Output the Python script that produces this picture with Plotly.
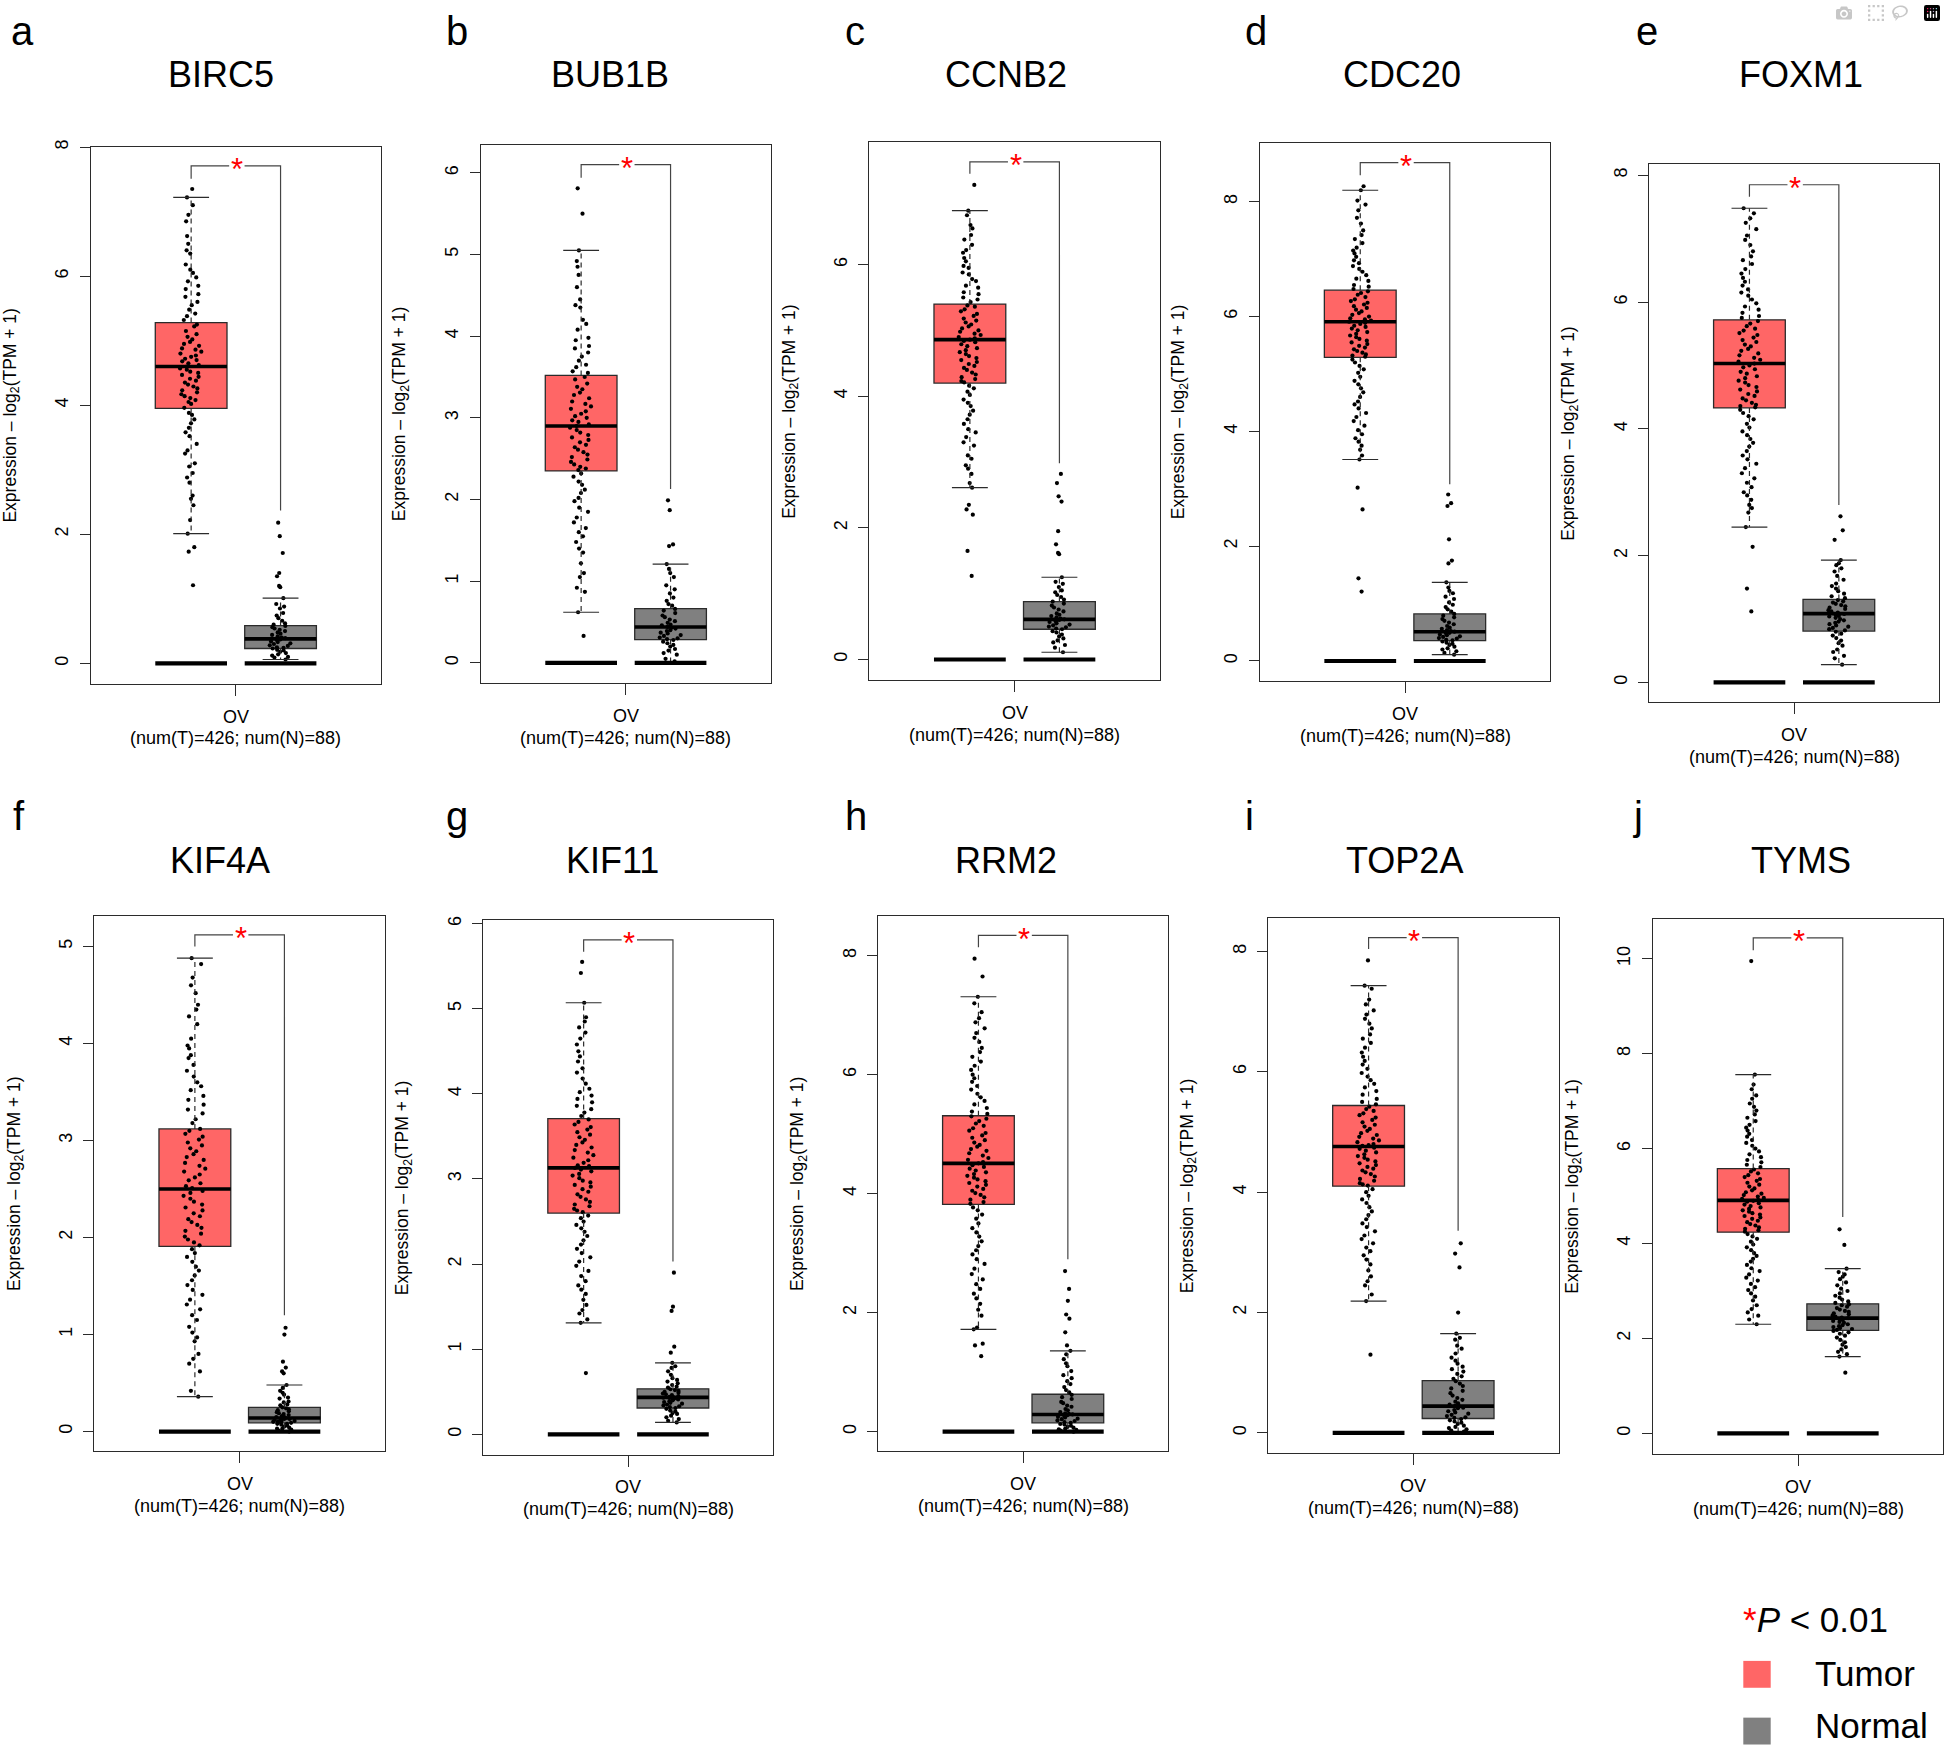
import plotly.graph_objects as go

W, H = 1946, 1747

# ---------------- data ----------------
genes = ["BIRC5", "BUB1B", "CCNB2", "CDC20", "FOXM1", "KIF4A", "KIF11", "RRM2", "TOP2A", "TYMS"]
panel_letters = ["a", "b", "c", "d", "e", "f", "g", "h", "i", "j"]
group_labels = ["Tumor", "Normal"]
cancer_label = "OV"
n_tumor = 426
n_normal = 88

tumor_q1 = [3.95, 2.35, 4.20, 5.29, 4.33, 1.91, 2.60, 3.82, 4.10, 4.24]
tumor_median = [4.60, 2.90, 4.86, 5.91, 5.03, 2.50, 3.13, 4.51, 4.76, 4.91]
tumor_q3 = [5.28, 3.52, 5.40, 6.46, 5.72, 3.12, 3.71, 5.31, 5.44, 5.58]
tumor_lower = [2.01, 0.62, 2.61, 3.51, 2.45, 0.36, 1.31, 1.72, 2.19, 2.30]
tumor_upper = [7.22, 5.05, 6.82, 8.20, 7.48, 4.88, 5.07, 7.31, 7.43, 7.56]

normal_q1 = [0.23, 0.285, 0.46, 0.355, 0.81, 0.09, 0.31, 0.15, 0.24, 2.17]
normal_median = [0.38, 0.44, 0.61, 0.51, 1.085, 0.14, 0.435, 0.29, 0.445, 2.43]
normal_q3 = [0.586, 0.664, 0.88, 0.82, 1.31, 0.25, 0.535, 0.63, 0.87, 2.73]
normal_lower = [0.06, 0.01, 0.11, 0.11, 0.28, 0.0, 0.14, 0.0, 0.0, 1.62]
normal_upper = [1.01, 1.21, 1.25, 1.37, 1.93, 0.48, 0.84, 1.36, 1.65, 3.47]

bracket_top = [7.71, 6.10, 7.56, 8.68, 7.85, 5.12, 5.81, 8.34, 8.23, 10.44]
bracket_tumor_end = [7.51, 5.94, 7.38, 8.46, 7.66, 5.00, 5.67, 8.14, 8.04, 10.18]
bracket_normal_end = [2.37, 2.13, 2.98, 3.08, 2.80, 1.20, 2.03, 2.90, 3.36, 4.56]
zero_level = [0.0, 0.0, 0.0, 0.0, 0.0, 0.0, 0.0, 0.0, 0.0, 0.0]

tumor_points = [
    [7.35, 7.22, 7.10, 6.85, 6.62, 6.50, 6.35, 6.18, 6.05, 5.92, 5.80, 5.68, 5.55, 5.42, 5.32,
     5.25, 5.15, 5.06, 4.98, 4.92, 4.86, 4.80, 4.75, 4.70, 4.65, 4.60,
     4.55, 4.50, 4.44, 4.38, 4.32, 4.26, 4.20, 4.14, 4.08, 4.02, 3.96,
     3.88, 3.78, 3.65, 3.52, 3.40, 3.25, 3.10, 2.95, 2.80, 2.60, 2.45, 2.22, 2.01, 1.80, 1.73, 1.21,
     6.95, 6.40, 6.10, 5.98, 5.85, 5.72, 5.60, 5.48, 5.38, 5.22, 5.10, 5.02, 4.95, 4.88, 4.83, 4.77,
     4.72, 4.68, 4.62, 4.57, 4.52, 4.47, 4.41, 4.35, 4.29, 4.23, 4.17, 4.11, 4.05, 3.85, 3.72, 3.58,
     3.30, 3.05, 2.88, 2.55],
    [5.81, 5.50, 5.05, 4.92, 4.85, 4.60, 4.45, 4.35, 4.20, 4.08, 3.95, 3.85, 3.75, 3.65, 3.57,
     3.50, 3.42, 3.35, 3.28, 3.20, 3.14, 3.08, 3.02, 2.97, 2.92,
     2.88, 2.82, 2.76, 2.70, 2.64, 2.58, 2.52, 2.46, 2.40, 2.36,
     2.28, 2.18, 2.08, 1.98, 1.85, 1.72, 1.60, 1.48, 1.35, 1.22, 1.05, 0.92, 0.87, 0.62, 0.33,
     4.75, 4.38, 4.15, 3.98, 3.88, 3.80, 3.70, 3.62, 3.55, 3.47, 3.38, 3.31, 3.24, 3.17, 3.11, 3.05,
     3.00, 2.95, 2.90, 2.85, 2.79, 2.73, 2.67, 2.61, 2.55, 2.49, 2.43, 2.38, 2.32, 2.22, 2.12, 2.02,
     1.90, 1.78, 1.65, 1.55, 1.40, 1.10],
    [7.21, 6.82, 6.75, 6.60, 6.45, 6.30, 6.18, 6.05, 5.95, 5.85, 5.75, 5.65, 5.55, 5.47,
     5.38, 5.32, 5.25, 5.18, 5.12, 5.06, 5.00, 4.95, 4.90, 4.86,
     4.82, 4.76, 4.70, 4.64, 4.58, 4.52, 4.46, 4.40, 4.33, 4.26, 4.21,
     4.12, 4.02, 3.90, 3.78, 3.65, 3.50, 3.38, 3.25, 3.10, 2.95, 2.82, 2.68, 2.61, 2.35, 2.28, 2.20, 1.65, 1.27,
     6.55, 6.38, 6.22, 6.10, 5.98, 5.88, 5.78, 5.68, 5.58, 5.50, 5.43, 5.36, 5.29, 5.22, 5.15, 5.09,
     5.03, 4.98, 4.93, 4.88, 4.84, 4.79, 4.73, 4.67, 4.61, 4.55, 4.49, 4.43, 4.36, 4.29, 4.23, 4.16,
     4.07, 3.95, 3.85, 3.72, 3.58, 3.45, 3.30, 3.05, 2.90],
    [8.27, 8.20, 8.02, 7.85, 7.62, 7.50, 7.35, 7.20, 7.10, 6.98, 6.88, 6.78, 6.66, 6.55,
     6.44, 6.38, 6.30, 6.24, 6.18, 6.12, 6.06, 6.00, 5.95, 5.91,
     5.87, 5.82, 5.76, 5.70, 5.64, 5.58, 5.52, 5.46, 5.40, 5.34, 5.30,
     5.20, 5.08, 4.95, 4.82, 4.68, 4.52, 4.40, 4.25, 4.10, 3.95, 3.82, 3.68, 3.58, 3.51, 3.02, 2.64, 1.44, 1.21,
     7.95, 7.72, 7.42, 7.28, 7.15, 7.04, 6.93, 6.83, 6.72, 6.62, 6.52, 6.48, 6.41, 6.34, 6.27, 6.21,
     6.15, 6.09, 6.03, 5.97, 5.93, 5.89, 5.84, 5.79, 5.73, 5.67, 5.61, 5.55, 5.49, 5.43, 5.37, 5.32,
     5.25, 5.14, 5.02, 4.88, 4.75, 4.60, 4.47, 4.32, 4.18, 4.02, 3.88, 3.75],
    [7.48, 7.40, 7.25, 7.05, 6.90, 6.72, 6.60, 6.45, 6.32, 6.20, 6.10, 5.98, 5.88, 5.78,
     5.70, 5.62, 5.55, 5.48, 5.40, 5.33, 5.26, 5.19, 5.12, 5.06,
     5.00, 4.94, 4.87, 4.80, 4.73, 4.66, 4.59, 4.52, 4.45, 4.38, 4.34,
     4.25, 4.15, 4.02, 3.90, 3.78, 3.65, 3.52, 3.38, 3.22, 3.08, 2.95, 2.80, 2.68, 2.45, 2.14, 1.48, 1.12,
     7.32, 7.15, 6.98, 6.80, 6.66, 6.52, 6.38, 6.26, 6.15, 6.04, 5.93, 5.83, 5.75, 5.66, 5.58, 5.51,
     5.44, 5.37, 5.30, 5.23, 5.16, 5.09, 5.03, 4.97, 4.90, 4.83, 4.76, 4.69, 4.62, 4.55, 4.48, 4.41,
     4.36, 4.30, 4.20, 4.08, 3.96, 3.84, 3.72, 3.58, 3.45, 3.30, 3.15, 3.00, 2.88, 2.75],
    [4.88, 4.82, 4.68, 4.52, 4.40, 4.28, 4.05, 3.95, 3.85, 3.72, 3.60, 3.52, 3.42, 3.32, 3.22,
     3.10, 3.04, 2.98, 2.92, 2.86, 2.80, 2.74, 2.68, 2.62, 2.56, 2.51,
     2.46, 2.40, 2.34, 2.28, 2.22, 2.16, 2.10, 2.04, 1.98, 1.92,
     1.84, 1.75, 1.66, 1.56, 1.46, 1.36, 1.26, 1.15, 1.02, 0.93, 0.80, 0.70, 0.62, 0.42, 0.36,
     4.60, 4.35, 4.20, 3.98, 3.88, 3.78, 3.66, 3.56, 3.46, 3.37, 3.28, 3.18, 3.12, 3.07, 3.01, 2.95,
     2.89, 2.83, 2.77, 2.71, 2.65, 2.59, 2.53, 2.48, 2.43, 2.37, 2.31, 2.25, 2.19, 2.13, 2.07, 2.01,
     1.95, 1.88, 1.80, 1.70, 1.61, 1.51, 1.41, 1.31, 1.20, 1.08, 0.97, 0.75],
    [5.55, 5.42, 5.07, 4.90, 4.78, 4.65, 4.50, 4.38, 4.25, 4.12, 4.02, 3.94, 3.86, 3.78,
     3.70, 3.64, 3.58, 3.52, 3.46, 3.40, 3.34, 3.28, 3.22, 3.16, 3.13,
     3.09, 3.04, 2.98, 2.93, 2.88, 2.82, 2.76, 2.70, 2.65, 2.61,
     2.54, 2.46, 2.38, 2.28, 2.18, 2.08, 1.98, 1.86, 1.75, 1.65, 1.52, 1.42, 1.35, 1.31, 0.72,
     4.85, 4.72, 4.58, 4.44, 4.30, 4.18, 4.06, 3.98, 3.90, 3.82, 3.74, 3.67, 3.61, 3.55, 3.49, 3.43,
     3.37, 3.31, 3.25, 3.19, 3.15, 3.11, 3.06, 3.01, 2.96, 2.91, 2.85, 2.79, 2.73, 2.68, 2.63, 2.57,
     2.50, 2.42, 2.33, 2.23, 2.13, 2.03, 1.92, 1.80, 1.70, 1.58, 1.46],
    [7.95, 7.65, 7.31, 7.20, 6.95, 6.78, 6.62, 6.45, 6.30, 6.15, 6.00, 5.88, 5.75, 5.62, 5.50, 5.38,
     5.30, 5.22, 5.14, 5.06, 4.98, 4.90, 4.82, 4.75, 4.68, 4.60, 4.53,
     4.48, 4.42, 4.36, 4.30, 4.24, 4.18, 4.12, 4.05, 3.98, 3.90, 3.83,
     3.72, 3.58, 3.42, 3.28, 3.12, 2.98, 2.82, 2.65, 2.48, 2.32, 2.15, 1.95, 1.75, 1.72, 1.48, 1.45, 1.27,
     7.05, 6.88, 6.70, 6.55, 6.38, 6.22, 6.08, 5.94, 5.81, 5.68, 5.56, 5.44, 5.34, 5.26, 5.18, 5.10,
     5.02, 4.94, 4.86, 4.79, 4.72, 4.64, 4.57, 4.51, 4.45, 4.39, 4.33, 4.27, 4.21, 4.15, 4.08, 4.01,
     3.94, 3.86, 3.77, 3.65, 3.50, 3.35, 3.20, 3.05, 2.90, 2.74, 2.56, 2.40, 2.24, 2.05],
    [7.85, 7.43, 7.38, 7.12, 6.95, 6.80, 6.62, 6.48, 6.32, 6.18, 6.05, 5.92, 5.80, 5.68, 5.55,
     5.42, 5.35, 5.28, 5.20, 5.12, 5.05, 4.98, 4.92, 4.86, 4.80, 4.77,
     4.72, 4.66, 4.60, 4.54, 4.48, 4.42, 4.36, 4.30, 4.22, 4.15, 4.11,
     4.00, 3.88, 3.75, 3.62, 3.48, 3.35, 3.22, 3.08, 2.95, 2.80, 2.60, 2.45, 2.30, 2.19, 1.30,
     7.20, 7.02, 6.88, 6.72, 6.55, 6.40, 6.25, 6.12, 5.98, 5.86, 5.74, 5.62, 5.50, 5.46, 5.38, 5.31,
     5.24, 5.16, 5.09, 5.02, 4.95, 4.89, 4.83, 4.78, 4.74, 4.69, 4.63, 4.57, 4.51, 4.45, 4.39, 4.33,
     4.26, 4.19, 4.13, 4.05, 3.94, 3.82, 3.68, 3.55, 3.42, 3.28, 3.15, 3.02, 2.88, 2.70, 2.52],
    [9.95, 7.56, 7.35, 7.12, 6.95, 6.80, 6.65, 6.50, 6.38, 6.25, 6.12, 6.00, 5.88, 5.76, 5.66,
     5.56, 5.48, 5.40, 5.32, 5.24, 5.16, 5.08, 5.02, 4.96, 4.92,
     4.88, 4.82, 4.76, 4.70, 4.64, 4.58, 4.52, 4.45, 4.38, 4.31, 4.25,
     4.15, 4.04, 3.92, 3.80, 3.68, 3.55, 3.42, 3.28, 3.15, 3.02, 2.88, 2.70, 2.55, 2.40, 2.30,
     7.25, 7.05, 6.88, 6.72, 6.58, 6.44, 6.31, 6.18, 6.06, 5.94, 5.82, 5.71, 5.61, 5.52, 5.44, 5.36,
     5.28, 5.20, 5.12, 5.05, 4.99, 4.94, 4.90, 4.85, 4.79, 4.73, 4.67, 4.61, 4.55, 4.48, 4.41, 4.34,
     4.28, 4.20, 4.10, 3.98, 3.86, 3.74, 3.62, 3.48, 3.35, 3.22, 3.08, 2.95, 2.80, 2.62, 2.48],
]

normal_points = [
    [2.18, 1.97, 1.71, 1.40, 1.35, 1.20, 1.18, 1.01, 0.92, 0.85, 0.78, 0.70, 0.62, 0.58, 0.54,
     0.50, 0.46, 0.42, 0.39, 0.37, 0.34, 0.31, 0.28, 0.25, 0.23, 0.20, 0.16, 0.12, 0.09, 0.06,
     0.88, 0.74, 0.66, 0.60, 0.56, 0.52, 0.48, 0.44, 0.40, 0.36, 0.33, 0.30, 0.27, 0.24, 0.21,
     0.18, 0.14, 0.10],
    [1.99, 1.87, 1.45, 1.43, 1.21, 1.15, 1.05, 0.95, 0.85, 0.76, 0.70, 0.64, 0.58, 0.53, 0.49,
     0.46, 0.44, 0.42, 0.39, 0.36, 0.33, 0.30, 0.28, 0.24, 0.20, 0.15, 0.10, 0.05, 0.02,
     1.10, 0.90, 0.80, 0.72, 0.66, 0.61, 0.56, 0.51, 0.47, 0.43, 0.40, 0.37, 0.34, 0.31, 0.29,
     0.26, 0.22, 0.17, 0.12],
    [2.82, 2.68, 2.48, 2.40, 1.95, 1.75, 1.62, 1.60, 1.25, 1.18, 1.10, 1.02, 0.95, 0.88, 0.82,
     0.76, 0.70, 0.66, 0.62, 0.60, 0.57, 0.53, 0.50, 0.47, 0.43, 0.38, 0.32, 0.26, 0.18, 0.11,
     1.15, 1.05, 0.98, 0.91, 0.85, 0.79, 0.73, 0.68, 0.64, 0.61, 0.58, 0.55, 0.52, 0.49, 0.46,
     0.41, 0.35, 0.29, 0.22],
    [2.90, 2.75, 2.70, 2.12, 1.75, 1.70, 1.37, 1.28, 1.18, 1.08, 0.98, 0.90, 0.82, 0.76, 0.70,
     0.64, 0.58, 0.54, 0.51, 0.48, 0.45, 0.42, 0.39, 0.36, 0.32, 0.28, 0.22, 0.17, 0.11,
     1.22, 1.12, 1.02, 0.94, 0.86, 0.79, 0.73, 0.67, 0.61, 0.56, 0.52, 0.49, 0.46, 0.43, 0.40,
     0.37, 0.34, 0.30, 0.25, 0.20, 0.14],
    [2.62, 2.40, 2.25, 1.93, 1.85, 1.75, 1.62, 1.52, 1.44, 1.36, 1.30, 1.26, 1.22, 1.18, 1.14,
     1.10, 1.07, 1.04, 1.00, 0.96, 0.92, 0.88, 0.84, 0.80, 0.74, 0.66, 0.58, 0.48, 0.38, 0.28,
     1.88, 1.80, 1.68, 1.56, 1.48, 1.40, 1.33, 1.28, 1.24, 1.20, 1.16, 1.12, 1.08, 1.05, 1.02,
     0.98, 0.94, 0.90, 0.86, 0.82, 0.77, 0.70, 0.62, 0.52, 0.42],
    [1.07, 1.00, 0.72, 0.66, 0.62, 0.60, 0.48, 0.42, 0.38, 0.34, 0.30, 0.27, 0.24, 0.22, 0.20,
     0.18, 0.16, 0.15, 0.14, 0.13, 0.12, 0.11, 0.10, 0.09, 0.08, 0.06, 0.04, 0.03, 0.01, 0.00,
     0.45, 0.40, 0.35, 0.31, 0.28, 0.25, 0.23, 0.21, 0.19, 0.17, 0.15, 0.14, 0.13, 0.12, 0.11,
     0.10, 0.09, 0.08, 0.07, 0.05, 0.03, 0.02],
    [1.90, 1.50, 1.45, 1.03, 0.96, 0.84, 0.78, 0.70, 0.64, 0.60, 0.56, 0.53, 0.51, 0.49, 0.47,
     0.45, 0.44, 0.43, 0.41, 0.39, 0.37, 0.35, 0.33, 0.31, 0.28, 0.25, 0.22, 0.18, 0.14,
     0.80, 0.74, 0.66, 0.62, 0.58, 0.55, 0.52, 0.50, 0.48, 0.46, 0.44, 0.43, 0.42, 0.40, 0.38,
     0.36, 0.34, 0.32, 0.30, 0.27, 0.24, 0.20, 0.16],
    [2.70, 2.40, 2.20, 1.97, 1.90, 1.67, 1.45, 1.36, 1.22, 1.10, 0.95, 0.85, 0.75, 0.66, 0.58,
     0.50, 0.44, 0.38, 0.33, 0.30, 0.28, 0.25, 0.22, 0.19, 0.16, 0.12, 0.08, 0.05, 0.02, 0.00,
     1.30, 1.15, 1.02, 0.90, 0.80, 0.70, 0.62, 0.55, 0.48, 0.42, 0.36, 0.31, 0.29, 0.27, 0.24,
     0.21, 0.18, 0.15, 0.13, 0.10, 0.07, 0.04, 0.03],
    [3.15, 2.98, 2.75, 2.00, 1.65, 1.55, 1.45, 1.32, 1.20, 1.10, 1.02, 0.94, 0.86, 0.78, 0.70,
     0.62, 0.55, 0.49, 0.45, 0.42, 0.38, 0.34, 0.30, 0.26, 0.23, 0.19, 0.15, 0.10, 0.06, 0.02,
     1.58, 1.40, 1.25, 1.15, 1.06, 0.98, 0.90, 0.82, 0.74, 0.66, 0.58, 0.52, 0.47, 0.44, 0.41,
     0.36, 0.32, 0.28, 0.25, 0.21, 0.17, 0.12, 0.08, 0.04],
    [4.30, 3.97, 3.47, 3.35, 3.25, 3.12, 3.00, 2.90, 2.82, 2.75, 2.70, 2.64, 2.58, 2.53, 2.48,
     2.44, 2.41, 2.37, 2.33, 2.28, 2.24, 2.20, 2.16, 2.10, 2.02, 1.92, 1.82, 1.72, 1.62, 1.28,
     3.40, 3.30, 3.18, 3.05, 2.95, 2.86, 2.78, 2.72, 2.67, 2.61, 2.56, 2.51, 2.46, 2.43, 2.39,
     2.35, 2.30, 2.26, 2.22, 2.18, 2.13, 2.06, 1.97, 1.87, 1.77, 1.67],
]

y_tickvals = [
    [0, 2, 4, 6, 8], [0, 1, 2, 3, 4, 5, 6], [0, 2, 4, 6], [0, 2, 4, 6, 8], [0, 2, 4, 6, 8],
    [0, 1, 2, 3, 4, 5], [0, 1, 2, 3, 4, 5, 6], [0, 2, 4, 6, 8], [0, 2, 4, 6, 8], [0, 2, 4, 6, 8, 10],
]

# ---------------- layout geometry (pixels) ----------------
frames = [  # left, top, right, bottom
    (90.7, 139.7, 381.0, 678.8), (480.7, 137.7, 771.0, 677.9), (869.3, 134.8, 1160.0, 675.0),
    (1259.7, 135.8, 1550.3, 675.9), (1649.0, 157.2, 1939.3, 697.3),
    (94.3, 911.7, 385.0, 1449.4), (483.3, 916.4, 773.3, 1453.2), (878.0, 912.6, 1168.3, 1449.4),
    (1268.0, 914.5, 1558.7, 1451.8), (1652.7, 915.0, 1943.3, 1452.7),
]
y_ranges = [
    [-0.315, 8.0], [-0.244, 6.34], [-0.31, 7.86], [-0.345, 9.02], [-0.31, 8.17],
    [-0.198, 5.32], [-0.237, 6.04], [-0.32, 8.66], [-0.336, 8.55], [-0.434, 10.84],
]
title_x = [220.8, 610.0, 1006.0, 1402.3, 1801.0, 220.3, 612.2, 1005.5, 1404.0, 1800.8]
letter_x = [9, 444, 843, 1243, 1634, 11, 444, 843, 1243, 1631]
row_title_y = [67, 856]
row_letter_y = [23, 812]

FONT = "Liberation Sans, Arial, Helvetica, sans-serif"
TUMOR_COLOR = "rgb(255,102,102)"
NORMAL_COLOR = "rgb(128,128,128)"
EDGE = "#2b2b2b"

XT, XN, BW = 0.346, 0.654, 0.247


def pxx(x):
    return x / W


def pxy(y):
    return 1 - y / H


fig = go.Figure()
annotations = []
layout_axes = {}

for k in range(10):
    idx = k + 1
    xa = "x" if idx == 1 else f"x{idx}"
    ya = "y" if idx == 1 else f"y{idx}"
    L, T, R, B = frames[k]

    layout_axes["xaxis" if idx == 1 else f"xaxis{idx}"] = dict(
        domain=[pxx(L), pxx(R)], range=[0, 1], anchor=ya,
        showgrid=False, zeroline=False, showline=True, mirror=True,
        linecolor=EDGE, linewidth=1.4, ticks="outside", ticklen=11, tickwidth=1.3,
        tickcolor=EDGE, tickvals=[0.5], showticklabels=False, fixedrange=True,
    )
    layout_axes["yaxis" if idx == 1 else f"yaxis{idx}"] = dict(
        domain=[pxy(B), pxy(T)], range=y_ranges[k], anchor=xa,
        showgrid=False, zeroline=False, showline=True, mirror=True,
        linecolor=EDGE, linewidth=1.4, ticks="outside", ticklen=10, tickwidth=1.3,
        tickcolor=EDGE, tickvals=y_tickvals[k], tickangle=-90, ticklabelstandoff=4,
        tickfont=dict(family=FONT, size=18, color="black"), fixedrange=True,
    )

    stats = [
        (XT, tumor_q1[k], tumor_median[k], tumor_q3[k], tumor_lower[k], tumor_upper[k], TUMOR_COLOR, tumor_points[k]),
        (XN, normal_q1[k], normal_median[k], normal_q3[k], normal_lower[k], normal_upper[k], NORMAL_COLOR, normal_points[k]),
    ]
    for (xc, q1, med, q3, lo, up, col, pts) in stats:
        # box body
        fig.add_trace(go.Box(
            x=[xc], q1=[q1], median=[med], q3=[q3], lowerfence=[q1], upperfence=[q3],
            width=BW, fillcolor=col, line=dict(color=EDGE, width=1.3), whiskerwidth=0,
            boxpoints=False, xaxis=xa, yaxis=ya, showlegend=False, hoverinfo="skip",
        ))
        # jittered sample points
        fig.add_trace(go.Box(
            y=pts, x0=xc, width=BW, boxpoints="all", jitter=0.32, pointpos=0,
            fillcolor="rgba(0,0,0,0)", line=dict(color="rgba(0,0,0,0)", width=0),
            marker=dict(color="black", size=4.2, line=dict(width=0)),
            xaxis=xa, yaxis=ya, showlegend=False, hoverinfo="y",
        ))
        # dashed whiskers
        fig.add_trace(go.Scatter(
            x=[xc, xc, None, xc, xc], y=[q3, up, None, q1, lo], mode="lines",
            line=dict(color=EDGE, width=1.2, dash="5px,4px"),
            xaxis=xa, yaxis=ya, showlegend=False, hoverinfo="skip",
        ))
        # whisker staples
        fig.add_trace(go.Scatter(
            x=[xc - BW / 4, xc + BW / 4, None, xc - BW / 4, xc + BW / 4],
            y=[up, up, None, lo, lo], mode="lines",
            line=dict(color=EDGE, width=1.2),
            xaxis=xa, yaxis=ya, showlegend=False, hoverinfo="skip",
        ))
        # median
        fig.add_trace(go.Scatter(
            x=[xc - BW / 2, xc + BW / 2], y=[med, med], mode="lines",
            line=dict(color="black", width=3.6),
            xaxis=xa, yaxis=ya, showlegend=False, hoverinfo="skip",
        ))
        # zero baseline bar
        fig.add_trace(go.Scatter(
            x=[xc - BW / 2, xc + BW / 2], y=[zero_level[k], zero_level[k]], mode="lines",
            line=dict(color="black", width=4.2),
            xaxis=xa, yaxis=ya, showlegend=False, hoverinfo="skip",
        ))

    # significance bracket
    top = bracket_top[k]
    fig.add_trace(go.Scatter(
        x=[XT, XT, 0.477, None, 0.530, XN, XN],
        y=[bracket_tumor_end[k], top, top, None, top, top, bracket_normal_end[k]],
        mode="lines", line=dict(color="#444444", width=1.2),
        xaxis=xa, yaxis=ya, showlegend=False, hoverinfo="skip",
    ))
    annotations.append(dict(
        xref=xa, yref=ya, x=0.503, y=top, text="*", showarrow=False,
        font=dict(family=FONT, size=31, color="#ff0000"), xanchor="center", yanchor="middle", yshift=-4,
    ))

    row = 0 if k < 5 else 1
    # gene title
    annotations.append(dict(
        xref="paper", yref="paper", x=pxx(title_x[k]), y=pxy(row_title_y[row]),
        text=genes[k], showarrow=False, xanchor="center", yanchor="middle",
        font=dict(family=FONT, size=36, color="black"),
    ))
    # panel letter
    annotations.append(dict(
        xref="paper", yref="paper", x=pxx(letter_x[k]), y=pxy(row_letter_y[row]),
        text=panel_letters[k], showarrow=False, xanchor="left", yanchor="middle",
        font=dict(family=FONT, size=40, color="black"),
    ))
    # y-axis title
    annotations.append(dict(
        xref="paper", yref="paper", x=pxx(L - 79.5), y=pxy((T + B) / 2),
        text="Expression \u2013 log<sub>2</sub>(TPM + 1)", textangle=-90, showarrow=False,
        xanchor="center", yanchor="middle", font=dict(family=FONT, size=17.5, color="black"),
    ))
    # x labels
    annotations.append(dict(
        xref="paper", yref="paper", x=pxx((L + R) / 2), y=pxy(B + 33),
        text=cancer_label, showarrow=False, xanchor="center", yanchor="middle",
        font=dict(family=FONT, size=18, color="black"),
    ))
    annotations.append(dict(
        xref="paper", yref="paper", x=pxx((L + R) / 2), y=pxy(B + 55),
        text=f"(num(T)={n_tumor}; num(N)={n_normal})", showarrow=False,
        xanchor="center", yanchor="middle", font=dict(family=FONT, size=18, color="black"),
    ))

# legend
annotations.append(dict(
    xref="paper", yref="paper", x=pxx(1741), y=pxy(1619),
    text="<span style='color:#ff0000'>*</span><i>P</i> &lt; 0.01", showarrow=False,
    xanchor="left", yanchor="middle", font=dict(family=FONT, size=35, color="black"),
))
legend_text_y = [1673, 1725]
legend_box_y = [1674, 1731]
legend_colors = [TUMOR_COLOR, NORMAL_COLOR]
shapes = []
for lab, ty, by, col in zip(group_labels, legend_text_y, legend_box_y, legend_colors):
    annotations.append(dict(
        xref="paper", yref="paper", x=pxx(1813), y=pxy(ty),
        text=lab, showarrow=False, xanchor="left", yanchor="middle",
        font=dict(family=FONT, size=35, color="black"),
    ))
    shapes.append(dict(
        type="rect", xref="paper", yref="paper",
        x0=pxx(1743.3), x1=pxx(1770.7), y0=pxy(by + 13.5), y1=pxy(by - 13.5),
        fillcolor=col, line=dict(width=0),
    ))

fig.update_layout(
    width=W, height=H, autosize=False,
    margin=dict(l=0, r=0, t=0, b=0, pad=0),
    paper_bgcolor="white", plot_bgcolor="white",
    boxmode="overlay", showlegend=False,
    annotations=annotations, shapes=shapes,
    font=dict(family=FONT, color="black"),
    **layout_axes,
)

fig.write_html("out.html", post_script="document.body.style.margin='0px';")
